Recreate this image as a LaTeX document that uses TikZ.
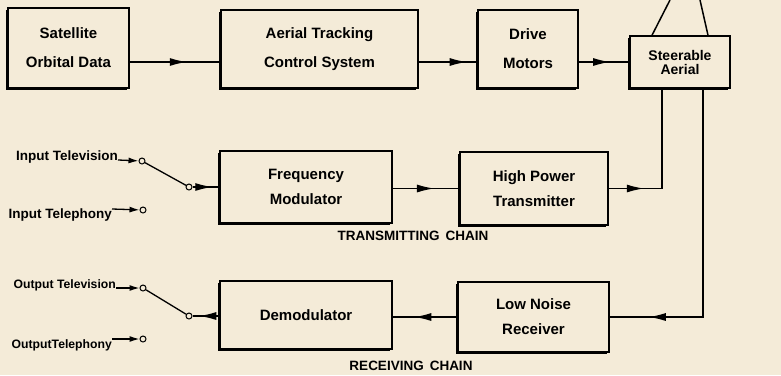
\documentclass[tikz,border=0pt]{standalone}
\usepackage{fontspec}
\setmainfont{Liberation Sans}
\usepackage{tikz}
\usetikzlibrary{arrows.meta, decorations.markings, shadows, calc}
\definecolor{paper}{RGB}{244,235,216}
\tikzset{
  block/.style={draw=black, line width=1.5pt, fill=paper, align=center,
                font=\fontsize{15}{25}\selectfont\bfseries,
                drop shadow={shadow xshift=-1.8pt, shadow yshift=-1.8pt,
                             opacity=1, fill=black}},
  sig/.style={draw=black, line width=1.3pt},
  midhead/.style={postaction={decorate},
                  decoration={markings,
                    mark=at position #1 with {\arrow{Latex[length=17pt,width=8pt]}}}},
  tiphead/.style={-{Latex[length=10pt,width=6pt]}},
  contact/.style={circle, draw=black, line width=1pt, fill=paper,
                  inner sep=0pt, minimum size=6pt},
  lbl/.style={font=\fontsize{13.5}{15}\selectfont\bfseries, inner sep=0pt},
  outlbl/.style={font=\fontsize{12.2}{15}\selectfont\bfseries, inner sep=0pt},
  chain/.style={font=\fontsize{13.5}{15}\selectfont\bfseries, inner sep=0pt},
}
\begin{document}
\begin{tikzpicture}[x=1pt, y=-1pt]
    \fill[paper] (0,0) rectangle (781,375);
    \useasboundingbox (0,0) rectangle (781,375);
    %% tracking row
    \node[block, minimum width=121pt, minimum height=80pt,
          font=\fontsize{15}{29}\selectfont\bfseries] (orbit) at (68.5,48) {Satellite\\Orbital Data};
    \node[block, minimum width=197pt, minimum height=78pt,
          font=\fontsize{15}{29}\selectfont\bfseries] (track) at (319.5,49) {Aerial Tracking\\Control System};
    \node[block, minimum width=100pt, minimum height=78pt,
          font=\fontsize{15}{29}\selectfont\bfseries] (motors) at (528,49) {Drive\\Motors};
    \node[block, minimum width=100pt, minimum height=52pt,
          font=\fontsize{14}{14}\selectfont\bfseries] (aerial) at (680,62) {Steerable\\Aerial};
    \draw[sig, midhead=0.63] (orbit.east |- aerial.west) -- (track.west |- aerial.west);
    \draw[sig, midhead=0.82] (track.east |- aerial.west) -- (motors.west |- aerial.west);
    \draw[sig, midhead=0.62] (motors.east |- aerial.west) -- (aerial.west);
    %% dish
    \coordinate (dishL) at (670,0);
    \coordinate (dishR) at (700,0);
    \draw[sig, line width=1.5pt] ([xshift=-28pt]aerial.north) -- (dishL);
    \draw[sig, line width=1.5pt] ([xshift=28pt]aerial.north) -- (dishR);
    %% transmitting chain
    \node[block, minimum width=172pt, minimum height=72pt] (fm) at (306,187) {Frequency\\Modulator};
    \node[block, minimum width=148pt, minimum height=73pt] (hpt) at (534,188.5) {High Power\\Transmitter};
    \draw[sig, midhead=0.62] (fm.east |- hpt.west) -- (hpt.west);
    \draw[sig, midhead=35pt] (hpt.east) -| ([xshift=-18pt]aerial.south);
    \node[chain] (txchain) at (413,236) {TRANSMITTING\hspace{6pt}CHAIN};
    %% input switch
    \node[contact] (inpivot) at (189,187) {};
    \node[contact] (intv) at (142,161) {};
    \node[contact] (intel) at (143,210) {};
    \node[lbl, anchor=base east] (intvtxt) at (118,160) {Input Television};
    \node[lbl, anchor=north east] (inteltxt) at (112,209) {Input Telephony};
    \draw[sig, tiphead] (intvtxt.base east) -- (intv);
    \draw[sig, tiphead] (inteltxt.north east) -- (intel);
    \draw[sig] (intv) -- (inpivot);
    \draw[sig, midhead=-7pt] (inpivot) -- (fm.west |- inpivot);
    %% receiving chain
    \node[block, minimum width=172pt, minimum height=68pt] (demod) at (306,315) {Demodulator};
    \node[block, minimum width=151pt, minimum height=70pt] (lnr) at (533.5,317) {Low Noise\\Receiver};
    \draw[sig, midhead=43pt] (lnr.west) -- (demod.east |- lnr.west);
    \draw[sig, midhead=-39pt] ([xshift=23pt]aerial.south) |- (lnr.east);
    \node[chain] (rxchain) at (411,366) {RECEIVING\hspace{6pt}CHAIN};
    %% output switch
    \node[contact] (outpivot) at (189,316) {};
    \node[contact] (outtv) at (143,288) {};
    \node[contact] (outtel) at (143,339) {};
    \node[outlbl, anchor=base east] (outtvtxt) at (116,288) {Output Television};
    \node[outlbl, anchor=north east] (outteltxt) at (112,339) {OutputTelephony};
    \draw[sig, tiphead] (outtvtxt.base east) -- (outtv);
    \draw[sig, tiphead] (outteltxt.north east) -- (outtel);
    \draw[sig] (outtv) -- (outpivot);
    \draw[sig, midhead=20pt] (demod.west |- outpivot) -- (outpivot);
\end{tikzpicture}
\end{document}
